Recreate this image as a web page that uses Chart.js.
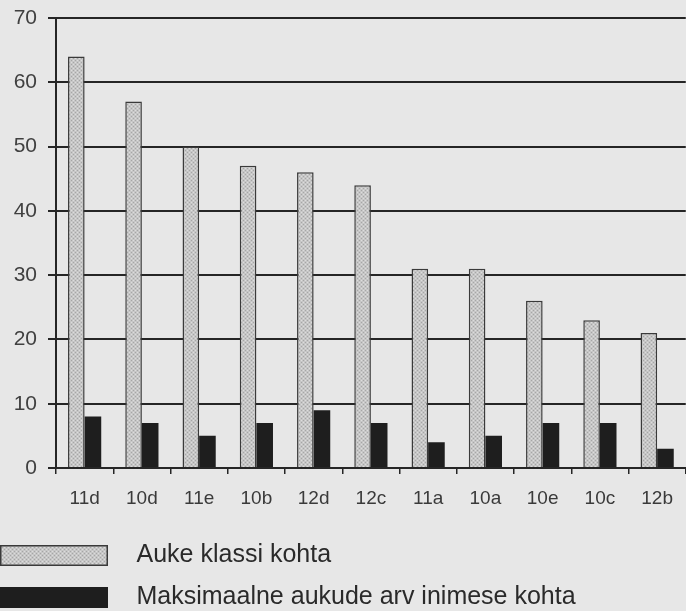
<!DOCTYPE html>
<html>
<head>
<meta charset="utf-8">
<script src="https://cdn.jsdelivr.net/npm/chart.js@4/dist/chart.umd.min.js"></script>
<style>
  html, body { margin: 0; padding: 0; background: #e7e7e7; overflow: hidden; }
  #wrap { position: absolute; left: -17px; top: 0; width: 703px; height: 620px; }
</style>
</head>
<body>
<div id="wrap"><canvas id="chart"></canvas></div>
<script>
// Klassid ja väärtused (loetud jooniselt)
const classes = ['11d','10d','11e','10b','12d','12c','11a','10a','10e','10c','12b'];
const perClass = [64, 57, 50, 47, 46, 44, 31, 31, 26, 23, 21];
const maxPerPerson = [8, 7, 5, 7, 9, 7, 4, 5, 7, 7, 3];
const seriesNames = ['Auke klassi kohta', 'Maksimaalne aukude arv inimese kohta'];
const yTicks = [0, 10, 20, 30, 40, 50, 60, 70];

// täpiline hall muster nagu skaneeritud joonisel
function stipple(g) {
    const c = document.createElement('canvas');
    c.width = 4; c.height = 4;
    const p = c.getContext('2d');
    p.fillStyle = '#c6c6c6';
    p.fillRect(0, 0, 4, 4);
    p.fillStyle = '#a6a6a6';
    p.fillRect(0, 0, 1, 1);
    p.fillRect(2, 2, 1, 1);
    p.fillStyle = '#dcdcdc';
    p.fillRect(2, 0, 1, 1);
    p.fillRect(0, 2, 1, 1);
    return g.createPattern(c, 'repeat');
}

// legendi kastid: 108 px kast + tühi ruum teksti ees
function legendMarker(fill, stroke) {
    const c = document.createElement('canvas');
    c.width = 124; c.height = 21;
    const g = c.getContext('2d');
    g.fillStyle = fill === 'pattern' ? stipple(g) : fill;
    g.fillRect(0, 0, 108, 21);
    if (stroke) {
        g.strokeStyle = stroke;
        g.lineWidth = 1.5;
        g.strokeRect(0.75, 0.75, 106.5, 19.5);
    }
    return c;
}

const ink = '#262626';
const ctx = document.getElementById('chart').getContext('2d');

new Chart(ctx, {
    type: 'bar',
    data: {
        labels: classes,
        datasets: [
            {
                label: seriesNames[0],
                data: perClass,
                backgroundColor: stipple(ctx),
                borderColor: '#3a3a3a',
                borderWidth: 1.5,
                pointStyle: legendMarker('pattern', '#3a3a3a'),
                categoryPercentage: 0.58,
                barPercentage: 1.0
            },
            {
                label: seriesNames[1],
                data: maxPerPerson,
                backgroundColor: '#1e1e1e',
                borderWidth: 0,
                pointStyle: legendMarker('#1e1e1e'),
                categoryPercentage: 0.58,
                barPercentage: 1.0
            }
        ]
    },
    options: {
        responsive: true,
        maintainAspectRatio: false,
        animation: false,
        layout: { padding: { top: 18, left: 0, right: 0, bottom: 0 } },
        plugins: {
            title: { display: false },
            tooltip: { enabled: false },
            legend: {
                display: true,
                position: 'bottom',
                align: 'start',
                labels: {
                    usePointStyle: true,
                    pointStyleWidth: 124,
                    boxHeight: 21,
                    padding: 17,
                    color: '#2a2a2a',
                    font: { family: 'Liberation Sans, Arial, sans-serif', size: 25 }
                }
            }
        },
        scales: {
            x: {
                offset: true,
                grid: { display: true, drawOnChartArea: false, tickLength: 6, color: ink, lineWidth: 1.5 },
                border: { display: true, color: ink, width: 2 },
                ticks: { color: '#3a3a3a', padding: 13, font: { family: 'Liberation Sans, Arial, sans-serif', size: 19 } },
                afterFit: s => { s.height = 58; }
            },
            y: {
                min: 0,
                max: 70,
                afterBuildTicks: s => { s.ticks = yTicks.map(v => ({ value: v })); },
                grid: { color: ink, lineWidth: 2, tickLength: 8 },
                border: { display: true, color: ink, width: 2 },
                ticks: { color: '#404040', padding: 11, font: { family: 'Liberation Sans, Arial, sans-serif', size: 21 } },
                afterFit: s => { s.width = 73; s.paddingTop = 0; s.paddingBottom = 0; }
            }
        }
    }
});
</script>
</body>
</html>
